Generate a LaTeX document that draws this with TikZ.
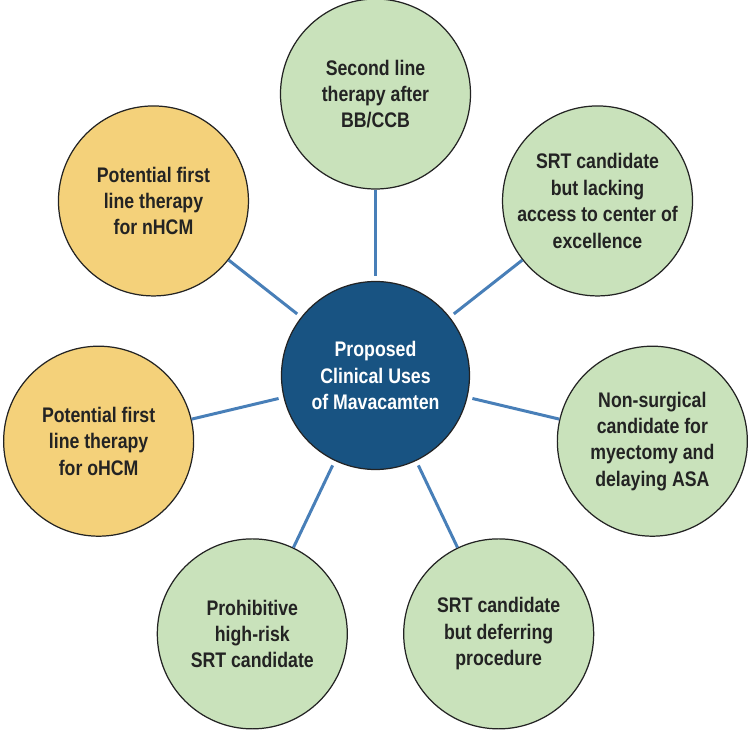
\documentclass[tikz,border=0pt]{standalone}
\usepackage{fontspec}
\setmainfont{Liberation Sans}[FakeStretch=0.84]
\definecolor{usegreen}{RGB}{201,226,187}
\definecolor{usegold}{RGB}{244,209,122}
\definecolor{hubblue}{RGB}{24,83,130}
\definecolor{linkblue}{RGB}{72,127,184}
\definecolor{ink}{RGB}{35,35,35}
\begin{document}
\begin{tikzpicture}[
        use/.style={circle, draw=ink, line width=0.7pt, minimum size=3.8cm, inner sep=0pt,
          align=center, text=ink, font=\fontsize{12}{15}\selectfont\bfseries},
        hub/.style={use, fill=hubblue, minimum size=3.76cm, text=white},
        link/.style={draw=linkblue, line width=1.7pt, shorten >=0.1cm}]
        \useasboundingbox (-7.51, -7.1) rectangle (7.49, 7.56);
        \node[hub] (hub) at (0, .05) {Proposed\\Clinical Uses\\of Mavacamten};

        % the seven uses, round the hub
        \foreach \a/\n/\c/\t in {90/u1/usegreen/{Second line\\therapy after\\BB/CCB},
          38.57/u2/usegreen/{SRT candidate\\but lacking\\access to center of\\excellence},
          -12.86/u3/usegreen/{Non-surgical\\candidate for\\myectomy and\\delaying ASA},
          -64.29/u4/usegreen/{SRT candidate\\but deferring\\procedure},
          -115.71/u5/usegreen/{Prohibitive\\high-risk\\SRT candidate},
          192.86/u6/usegold/{Potential first\\line therapy\\for oHCM},
          141.43/u7/usegold/{Potential first\\line therapy\\for nHCM}}
        \node[use, fill=\c] (\n) at (\a:5.68) {\t};

        \foreach \n in {u1, u2, u3, u4, u5, u6, u7}
        \draw[link] (\n) -- (hub);
        \end{tikzpicture}
\end{document}
